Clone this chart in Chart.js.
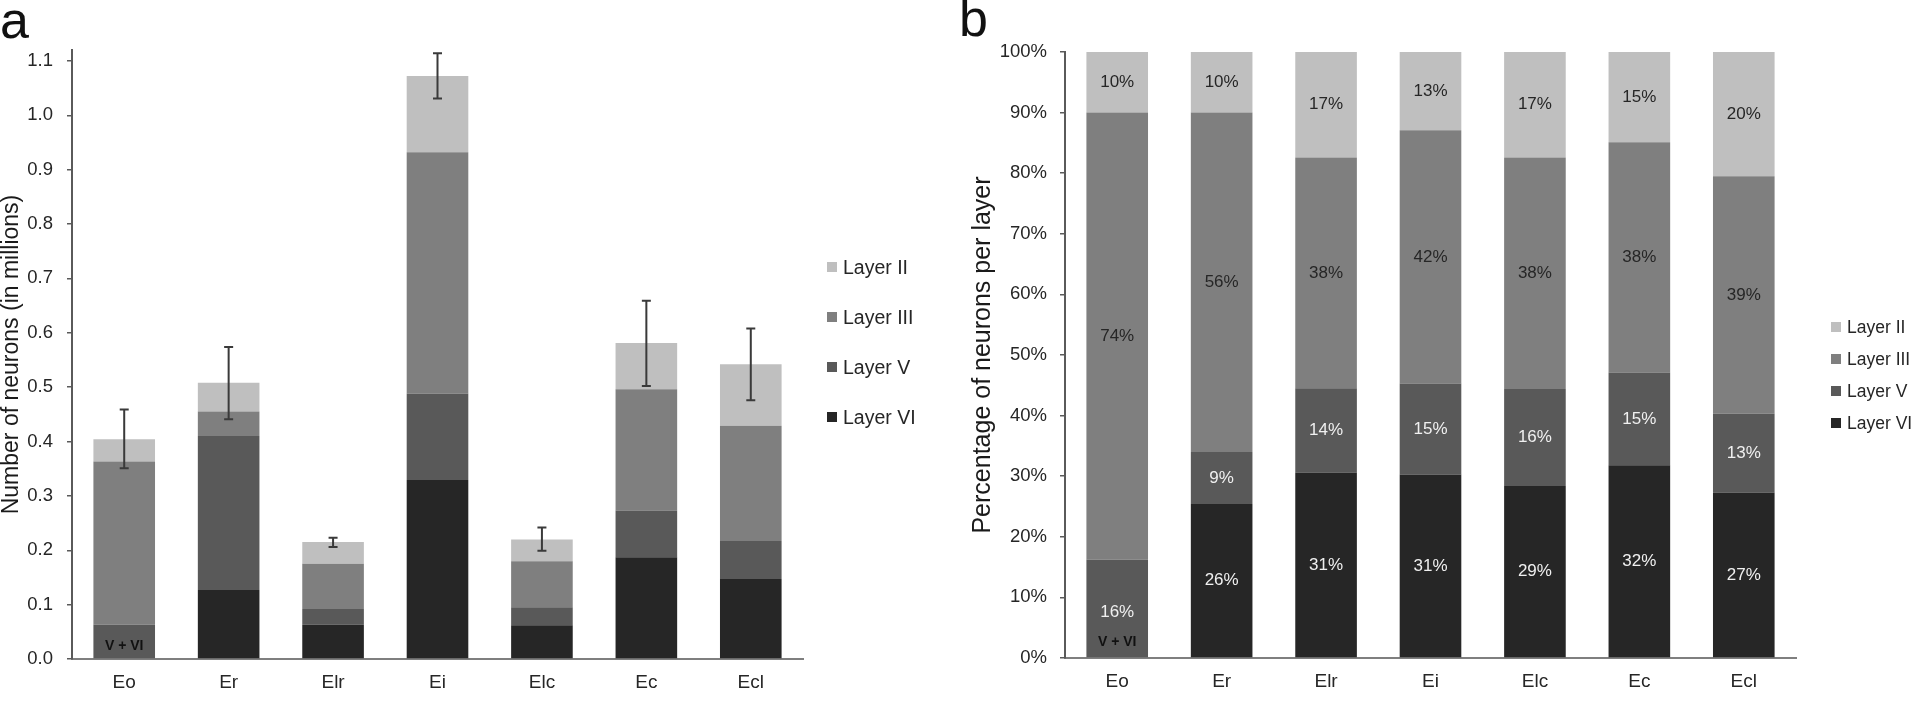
<!DOCTYPE html>
<html>
<head>
<meta charset="utf-8">
<script src="https://cdn.jsdelivr.net/npm/chart.js@4.4.1/dist/chart.umd.min.js"></script>
<style>
html,body{margin:0;padding:0;background:#fff;width:1920px;height:716px;overflow:hidden;font-family:'Liberation Sans',Arial,sans-serif;}
canvas{position:absolute;top:0;}
#ca{left:0;}
#cb{left:960px;}
.panel{position:absolute;font-size:52px;line-height:52px;color:#111;}
.lg{position:absolute;display:flex;align-items:center;white-space:nowrap;color:#262626;height:24px;}
.lg .sw{display:inline-block;width:10px;height:10px;margin-right:6px;}
</style>
</head>
<body>
<div class="panel" style="left:0px;top:-6px;">a</div>
<div class="panel" style="left:959px;top:-8px;">b</div>
<canvas id="ca" width="960" height="716"></canvas>
<canvas id="cb" width="960" height="716"></canvas>
<div id="legA"></div>
<div id="legB"></div>
<script>
// ---------- data ----------
const categories = ['Eo', 'Er', 'Elr', 'Ei', 'Elc', 'Ec', 'Ecl'];
const layerNames = ['Layer VI', 'Layer V', 'Layer III', 'Layer II'];
const layerColors = ['#262626', '#595959', '#7f7f7f', '#bfbfbf'];

// panel a: number of neurons (millions)
const countVI  = [0.000, 0.127, 0.063, 0.329, 0.062, 0.187, 0.147];
const countV   = [0.063, 0.283, 0.029, 0.159, 0.033, 0.086, 0.070];
const countIII = [0.300, 0.045, 0.083, 0.444, 0.085, 0.223, 0.212];
const countII  = [0.041, 0.053, 0.040, 0.140, 0.040, 0.085, 0.113];
const errLow   = [0.351, 0.441, 0.206, 1.031, 0.199, 0.502, 0.476];
const errHigh  = [0.459, 0.574, 0.223, 1.114, 0.242, 0.659, 0.608];

// panel b: percentage of neurons per layer
const pctVI  = [0.0, 25.4, 30.6, 30.3, 28.4, 31.8, 27.3];
const pctV   = [16.2, 8.6, 13.9, 15.0, 16.0, 15.3, 13.0];
const pctIII = [73.8, 56.0, 38.1, 41.8, 38.2, 38.0, 39.2];
const pctII  = [10.0, 10.0, 17.4, 12.9, 17.4, 14.9, 20.5];
const lblVI  = ['', '26%', '31%', '31%', '29%', '32%', '27%'];
const lblV   = ['16%', '9%', '14%', '15%', '16%', '15%', '13%'];
const lblIII = ['74%', '56%', '38%', '42%', '38%', '38%', '39%'];
const lblII  = ['10%', '10%', '17%', '13%', '17%', '15%', '20%'];

const yTicksA = [0, 0.1, 0.2, 0.3, 0.4, 0.5, 0.6, 0.7, 0.8, 0.9, 1.0, 1.1];
const yTicksB = [0, 10, 20, 30, 40, 50, 60, 70, 80, 90, 100];

// ---------- helpers ----------
const FF = "'Liberation Sans', Arial, sans-serif";
Chart.defaults.font.family = FF;
Chart.defaults.color = '#262626';

function makeDatasets(arrs) {
  return arrs.map((d, i) => ({
    label: layerNames[i],
    data: d,
    backgroundColor: layerColors[i],
    borderWidth: 0,
    categoryPercentage: 1.0,
    barPercentage: 0.59
  }));
}

const errorBars = {
  id: 'errorBars',
  afterDatasetsDraw(chart, args, opts) {
    if (!opts.low) return;
    const ctx = chart.ctx, y = chart.scales.y;
    const meta = chart.getDatasetMeta(chart.data.datasets.length - 1);
    ctx.save();
    ctx.strokeStyle = '#3a3a3a';
    ctx.lineWidth = 2;
    meta.data.forEach((bar, i) => {
      const x = bar.x;
      const yl = y.getPixelForValue(opts.low[i]);
      const yh = y.getPixelForValue(opts.high[i]);
      ctx.beginPath();
      ctx.moveTo(x, yl); ctx.lineTo(x, yh);
      ctx.moveTo(x - 4.5, yl); ctx.lineTo(x + 4.5, yl);
      ctx.moveTo(x - 4.5, yh); ctx.lineTo(x + 4.5, yh);
      ctx.stroke();
    });
    ctx.restore();
  }
};

const segLabels = {
  id: 'segLabels',
  afterDatasetsDraw(chart, args, opts) {
    const ctx = chart.ctx, y = chart.scales.y;
    ctx.save();
    ctx.textAlign = 'center';
    ctx.textBaseline = 'middle';
    (opts.sets || []).forEach(s => {
      const meta = chart.getDatasetMeta(s.ds);
      ctx.fillStyle = s.color;
      ctx.font = s.font;
      meta.data.forEach((bar, i) => {
        const t = s.labels[i];
        if (!t) return;
        if (s.skip && s.skip.includes(i)) return;
        ctx.fillText(t, bar.x, (bar.y + bar.base) / 2);
      });
    });
    (opts.extra || []).forEach(e => {
      const meta = chart.getDatasetMeta(e.ds);
      const bar = meta.data[e.cat];
      ctx.fillStyle = e.color;
      ctx.font = e.font;
      ctx.fillText(e.text, bar.x, y.getPixelForValue(e.at));
    });
    ctx.restore();
  }
};

function yAxis(opts) {
  return {
    stacked: true,
    min: 0,
    max: opts.max,
    afterBuildTicks(s) { s.ticks = opts.ticks.map(v => ({ value: v })); },
    afterFit(s) { s.width = opts.width; },
    ticks: {
      padding: opts.pad,
      color: '#262626',
      font: { size: 18.5, family: FF },
      callback: opts.cb
    },
    grid: { drawOnChartArea: false, drawTicks: true, tickLength: 5, color: '#5a5a5a', lineWidth: 1.5 },
    border: { display: true, color: '#5a5a5a', width: 2 },
    title: {
      display: true,
      text: opts.title,
      color: '#1a1a1a',
      font: { size: opts.tsize, family: FF, lineHeight: 1.0 },
      padding: { top: opts.tpad, bottom: 0 }
    }
  };
}

function xAxis(h) {
  return {
    stacked: true,
    afterFit(s) { s.height = h; },
    grid: { display: false, drawTicks: false },
    border: { display: true, color: '#7f7f7f', width: 2 },
    ticks: { padding: 12, color: '#262626', font: { size: 19, family: FF } }
  };
}

// ---------- chart a ----------
new Chart(document.getElementById('ca'), {
  type: 'bar',
  data: { labels: categories, datasets: makeDatasets([countVI, countV, countIII, countII]) },
  options: {
    responsive: false, animation: false, devicePixelRatio: 1,
    layout: { padding: { top: 50, right: 157, left: 0, bottom: 0 } },
    plugins: {
      legend: { display: false }, tooltip: { enabled: false },
      errorBars: { low: errLow, high: errHigh },
      segLabels: {
        extra: [{ ds: 1, cat: 0, at: 0.024, text: 'V + VI', color: '#111', font: "bold 14px " + FF }]
      }
    },
    scales: {
      x: xAxis(57),
      y: yAxis({ max: 1.12, ticks: yTicksA, width: 72, pad: 14, cb: v => v.toFixed(1),
                 title: 'Number of neurons (in millions)', tsize: 23, tpad: 0 })
    }
  },
  plugins: [errorBars, segLabels]
});

// ---------- chart b ----------
const darkLbl = "17px " + FF, lightCol = '#f0f0f0', darkCol = '#262626';
new Chart(document.getElementById('cb'), {
  type: 'bar',
  data: { labels: categories, datasets: makeDatasets([pctVI, pctV, pctIII, pctII]) },
  options: {
    responsive: false, animation: false, devicePixelRatio: 1,
    layout: { padding: { top: 52, right: 124, left: 0, bottom: 0 } },
    plugins: {
      legend: { display: false }, tooltip: { enabled: false },
      segLabels: {
        sets: [
          { ds: 0, labels: lblVI, color: lightCol, font: darkLbl },
          { ds: 1, labels: lblV, color: lightCol, font: darkLbl, skip: [0] },
          { ds: 2, labels: lblIII, color: darkCol, font: darkLbl },
          { ds: 3, labels: lblII, color: darkCol, font: darkLbl }
        ],
        extra: [
          { ds: 1, cat: 0, at: 7.5, text: '16%', color: lightCol, font: darkLbl },
          { ds: 1, cat: 0, at: 2.6, text: 'V + VI', color: '#111', font: "bold 14px " + FF }
        ]
      }
    },
    scales: {
      x: xAxis(58),
      y: yAxis({ max: 100, ticks: yTicksB, width: 105, pad: 13, cb: v => v + '%',
                 title: 'Percentage of neurons per layer', tsize: 25, tpad: 11 })
    }
  },
  plugins: [segLabels]
});

// ---------- legends (top item = Layer II) ----------
function buildLegend(el, left, ys, size) {
  const order = [3, 2, 1, 0];
  order.forEach((k, j) => {
    const d = document.createElement('div');
    d.className = 'lg';
    d.style.left = left + 'px';
    d.style.top = (ys[j] - 12) + 'px';
    d.style.fontSize = size + 'px';
    d.innerHTML = '<span class="sw" style="background:' + layerColors[k] + '"></span>' + layerNames[k];
    el.appendChild(d);
  });
}
buildLegend(document.getElementById('legA'), 827, [267, 317, 367, 417], 19.5);
buildLegend(document.getElementById('legB'), 1831, [327, 359, 391, 423], 17.5);
</script>
</body>
</html>
